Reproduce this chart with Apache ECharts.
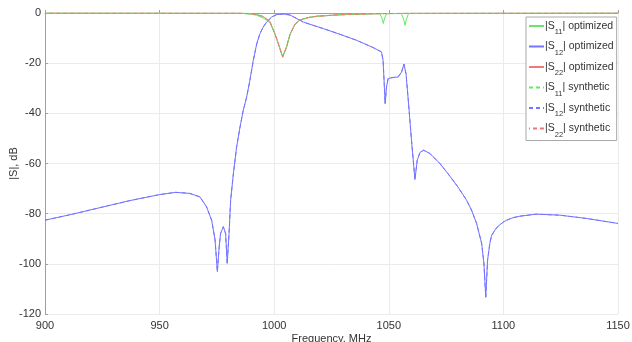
<!DOCTYPE html>
<html>
<head>
<meta charset="utf-8">
<script src="https://cdn.jsdelivr.net/npm/echarts@6/dist/echarts.min.js"></script>
<style>html,body{margin:0;padding:0;background:#fff}#c{width:632px;height:342px}</style>
</head>
<body>
<div id="c"></div>
<script>
// Tick labels
var xTicks = [900, 950, 1000, 1050, 1100, 1150];
var yTicks = [0, -20, -40, -60, -80, -100, -120];

// |S12| (transmission), frequency MHz / dB
var s12Freq = [900,912,924,937,950,957,963,967.6,970.5,972.7,974.2,975.2,976.0,976.6,977.8,978.8,979.5,980.3,981.0,982.2,983.6,985.1,986.5,988.0,989.4,990.9,992.4,993.8,995.2,996.7,998.9,1001.1,1004.0,1006.9,1009.8,1012.7,1015.6,1021.4,1028.7,1036.0,1043.2,1046.8,1047.5,1048.0,1048.4,1049.0,1049.7,1051.9,1054.1,1055.6,1056.6,1057.5,1058.5,1059.9,1061.4,1062.4,1063.6,1065.2,1067.9,1072.3,1076.6,1080.5,1083.9,1086.1,1088.3,1090.5,1091.5,1092.3,1093.1,1094.1,1094.8,1096.3,1097.7,1099.9,1101.4,1104.2,1107.2,1114.4,1124.6,1136.2,1150];
var s12Db = [-82.6,-80.2,-77.6,-74.8,-72.4,-71.5,-71.9,-73.3,-77.3,-82.6,-90.5,-103.1,-93.2,-87.9,-85.2,-87.9,-99.8,-87.9,-74.6,-64.0,-53.4,-45.4,-38.8,-33.5,-26.8,-18.8,-12.2,-8.2,-5.6,-3.6,-1.6,-0.6,-0.4,-0.8,-2.2,-3.6,-4.5,-6.2,-8.5,-10.9,-13.8,-15.5,-18.8,-28.1,-36.1,-29.5,-26.1,-25.7,-25.5,-23.5,-20.4,-24.1,-34.8,-50.7,-66.4,-58.7,-55.6,-54.7,-56.0,-60.0,-65.0,-69.8,-74.6,-78.6,-83.9,-91.8,-99.8,-113.3,-98.5,-91.8,-88.8,-86.5,-85.0,-83.4,-82.6,-81.6,-81.0,-80.2,-80.6,-81.9,-83.9];

// |S22| (reflection, port 2)
var s22Freq = [900,985,990,992.4,995.2,998.1,1000.3,1001.8,1003.7,1005.4,1006.9,1009.0,1011.2,1015.0,1018.5,1028.7,1043,1060,1150];
var s22Db = [0,-0.05,-0.3,-0.6,-1.4,-3.4,-8.2,-12.2,-17.4,-13.5,-8.5,-4.6,-2.8,-1.8,-1.3,-0.7,-0.3,-0.1,0];

// |S11| optimized (reflection, port 1)
var s11Freq = [900,985,990,992.4,995.2,998.1,1000.3,1001.8,1003.7,1005.4,1006.9,1009.0,1011.2,1015.0,1018.5,1028.7,1043,1046,1047,1047.6,1048.2,1049,1055.5,1056.5,1057.1,1057.7,1058.6,1070,1150];
var s11Db = [0,-0.1,-0.5,-0.9,-2.0,-3.8,-8.4,-12.4,-17.7,-13.6,-8.6,-4.6,-2.8,-1.8,-1.3,-0.7,-0.3,-0.3,-2.0,-4.2,-2.0,-0.3,-0.2,-2.5,-4.9,-2.5,-0.2,-0.1,0];

// synthetic responses
var s11SynFreq = s22Freq, s11SynDb = s22Db;
var s12SynFreq = s12Freq, s12SynDb = s12Db;
var s22SynFreq = s22Freq, s22SynDb = s22Db;

var names = ['|S11| optimized','|S12| optimized','|S22| optimized','|S11| synthetic','|S12| synthetic','|S22| synthetic'];
var colors = ['#66e866','#7474ff','#f07878','#66e866','#7474ff','#f07878'];

function pairs(f, d) { return f.map(function (v, i) { return [v, d[i]]; }); }

var sets = [
  [s11Freq, s11Db, 'solid'],
  [s12Freq, s12Db, 'solid'],
  [s22Freq, s22Db, 'solid'],
  [s11SynFreq, s11SynDb, [4, 3]],
  [s12SynFreq, s12SynDb, [4, 3]],
  [s22SynFreq, s22SynDb, [4, 3]]
];

var series = sets.map(function (s, i) {
  return {
    name: names[i], type: 'line', data: pairs(s[0], s[1]),
    showSymbol: false, symbol: 'none', smooth: false, animation: false,
    lineStyle: { color: colors[i], width: 1, type: s[2], dashOffset: i === 5 ? 3 : 0 },
    itemStyle: { color: colors[i] }
  };
});

var chart = echarts.init(document.getElementById('c'), null, { renderer: 'canvas' });
chart.setOption({
  animation: false,
  backgroundColor: '#ffffff',
  textStyle: { fontFamily: 'Liberation Sans, Arial, sans-serif' },
  grid: { left: 45, right: 14, top: 13, bottom: 28, containLabel: false, outerBoundsMode: 'none' },
  legend: {
    orient: 'vertical', left: 526, top: 17,
    padding: [2, 3, 2, 2], itemWidth: 15, itemHeight: 14, itemGap: 3.5,
    backgroundColor: '#ffffff', borderColor: '#a8a8a8', borderWidth: 1, borderRadius: 0,
    data: names,
    itemStyle: { opacity: 0 },
    formatter: function (n) { return n.replace(/S(\d\d)/, 'S{sub|$1}'); },
    textStyle: {
      fontSize: 10.5, color: '#333', lineHeight: 14, padding: [0, 0, 0, -4],
      rich: { sub: { fontSize: 7.5, color: '#333', verticalAlign: 'bottom', lineHeight: 8, padding: [0, 0, -3, 0] } }
    }
  },
  xAxis: {
    type: 'value', min: 900, max: 1150, interval: 50,
    name: 'Frequency, MHz', nameLocation: 'middle', nameGap: 19, nameMoveOverlap: false,
    nameTextStyle: { fontSize: 11, color: '#333' },
    axisLine: { show: true, lineStyle: { color: '#a0a0a0', width: 1 } },
    axisTick: { show: true, inside: true, length: 3, lineStyle: { color: '#a0a0a0' } },
    axisLabel: { fontSize: 11, color: '#333', margin: 6, formatter: function (v) { return String(v); } },
    splitLine: { show: true, lineStyle: { color: '#ebebeb', width: 1 } }
  },
  yAxis: {
    type: 'value', min: -120, max: 0, interval: 20,
    name: '|S|, dB', nameLocation: 'middle', nameGap: 26, nameRotate: 90, nameMoveOverlap: false,
    nameTextStyle: { fontSize: 11, color: '#333' },
    axisLine: { show: true, lineStyle: { color: '#a0a0a0', width: 1 } },
    axisTick: { show: true, inside: true, length: 3, lineStyle: { color: '#a0a0a0' } },
    axisLabel: { fontSize: 11, color: '#333', margin: 4, formatter: function (v) { return String(v); } },
    splitLine: { show: true, lineStyle: { color: '#ebebeb', width: 1 } }
  },
  series: series
});
</script>
</body>
</html>
